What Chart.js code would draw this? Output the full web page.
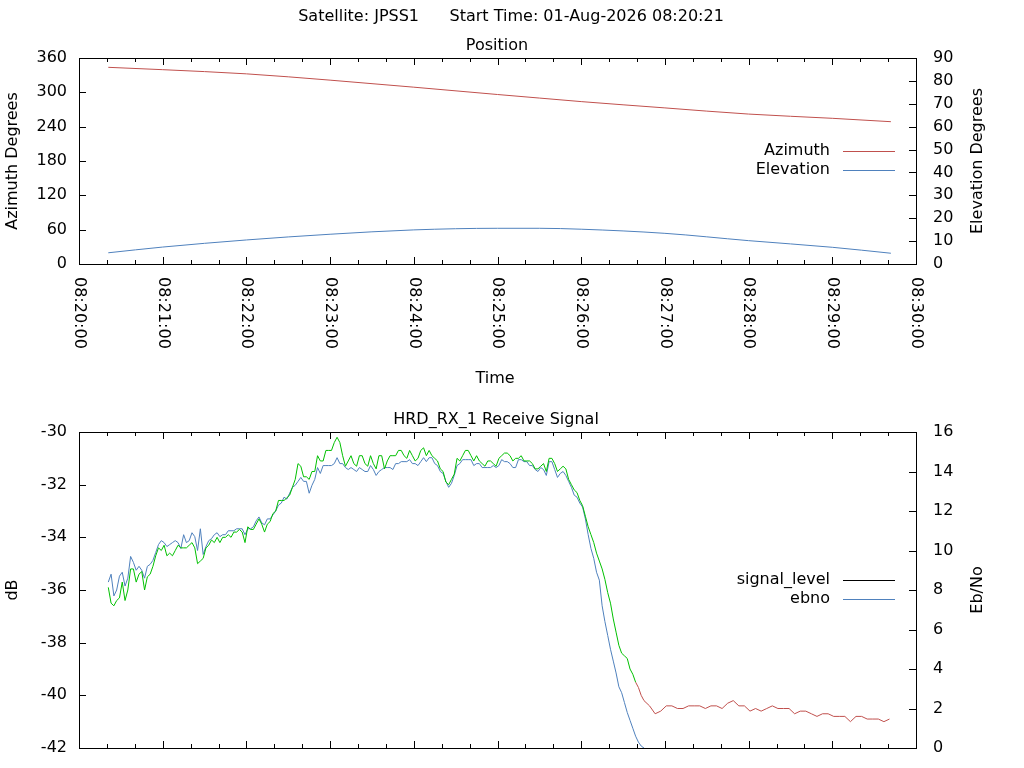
<!DOCTYPE html>
<html>
<head>
<meta charset="utf-8">
<script src="https://cdn.jsdelivr.net/npm/chart.js@4.4.1/dist/chart.umd.min.js"></script>
<style>
  html, body { margin: 0; padding: 0; background: #fff; overflow: hidden; }
  #posChart { position: absolute; left: 0; top: 0; }
  #sigChart { position: absolute; left: 0; top: 392px; }
</style>
</head>
<body>
<canvas id="posChart" width="1024" height="392"></canvas>
<canvas id="sigChart" width="1024" height="383"></canvas>
<script>
// x values are seconds after 08:20:00
const timeLabels = ['08:20:00', '08:21:00', '08:22:00', '08:23:00', '08:24:00', '08:25:00',
                    '08:26:00', '08:27:00', '08:28:00', '08:29:00', '08:30:00'];

// position panel
const posTimes  = [21, 60, 120, 180, 240, 300, 330, 360, 420, 480, 540, 582];
const azimuth   = [343.7, 339.6, 332.3, 321.3, 309.0, 296.2, 290.0, 283.8, 272.8, 262.0, 254.6, 248.7];
const elevation = [4.9, 7.4, 10.5, 13.0, 14.9, 15.6, 15.6, 15.2, 13.4, 10.2, 7.3, 4.7];

// receive signal panel
const sigTimes = [21, 23, 25, 27, 29, 31, 33, 35, 37, 39, 41, 43, 45, 47, 49, 51, 53, 55, 57, 59,
  61, 63, 65, 67, 69, 71, 73, 75, 77, 79, 81, 83, 85, 87, 89, 91, 93, 95, 97, 99,
  101, 103, 105, 107, 109, 111, 113, 115, 117, 119, 121, 123, 125, 127, 129, 131, 133, 135, 137, 139,
  141, 143, 145, 147, 149, 151, 153, 155, 157, 159, 161, 163, 165, 167, 169, 171, 173, 175, 177, 179,
  181, 183, 185, 187, 189, 191, 193, 195, 197, 199, 201, 203, 205, 207, 209, 211, 213, 215, 217, 219,
  221, 223, 225, 227, 229, 231, 233, 235, 237, 239, 241, 243, 245, 247, 249, 251, 253, 255, 257, 259,
  261, 263, 265, 267, 269, 271, 273, 275, 277, 279, 281, 283, 285, 287, 289, 291, 293, 295, 297, 299,
  301, 303, 305, 307, 309, 311, 313, 315, 317, 319, 321, 323, 325, 327, 329, 331, 333, 335, 337, 339,
  341, 343, 345, 347, 349, 351, 353, 355, 357, 359, 361, 363, 365, 367, 369, 371, 373, 375, 377, 379,
  381, 383, 385, 387, 389, 391, 393, 395, 397, 399, 401, 403, 405,
  409, 413, 417, 421, 425, 429, 433, 437, 441, 445, 449, 453, 457, 461, 465, 469, 473, 477, 481, 485,
  489, 493, 497, 501, 505, 509, 513, 517, 521, 525, 529, 533, 537, 541, 545, 549, 553, 557, 561, 565,
  569, 573, 577, 581];
const signalLevel = [
  -35.9, -36.5, -36.6, -36.4, -36.3, -35.7, -36.4, -36.0, -35.2, -35.2, -35.7, -35.4, -35.3, -36.0, -35.5, -35.4, -35.1, -34.7, -34.4, -34.5,
  -34.3, -34.7, -34.6, -34.7, -34.5, -34.3, -34.4, -34.4, -34.4, -34.3, -34.2, -34.4, -35.0, -34.9, -34.8, -34.4, -34.3, -34.1, -34.2, -34.0,
  -34.2, -34.0, -34.0, -33.9, -34.0, -33.8, -33.8, -33.7, -33.8, -34.2, -33.6, -33.7, -33.7, -33.5, -33.3, -33.5, -33.8, -33.5, -33.4, -33.1,
  -33.0, -32.6, -32.6, -32.6, -32.5, -32.4, -32.1, -31.8, -31.2, -31.3, -31.7, -31.7, -31.8, -31.5, -31.5, -30.9, -31.1, -31.1, -30.7, -30.7,
  -30.7, -30.4, -30.2, -30.4, -30.9, -31.3, -31.1, -30.9, -31.2, -31.3, -30.9, -30.9, -31.2, -31.3, -30.9, -31.2, -31.4, -30.9, -30.9, -31.4,
  -31.1, -30.9, -30.9, -30.9, -30.7, -30.7, -30.9, -31.0, -30.7, -30.9, -31.1, -31.0, -30.7, -30.6, -30.9, -30.7, -30.9, -31.0, -31.1, -31.4,
  -31.5, -31.9, -32.0, -31.8, -31.6, -31.0, -31.1, -30.9, -30.7, -30.7, -30.9, -31.1, -30.9, -31.1, -31.2, -31.3, -31.1, -31.1, -31.2, -31.3,
  -31.0, -30.9, -30.8, -30.8, -30.9, -31.1, -31.0, -31.0, -30.9, -31.1, -31.1, -31.1, -31.2, -31.4, -31.4, -31.3, -31.2, -31.5, -31.0, -31.0,
  -31.2, -31.5, -31.4, -31.3, -31.4, -31.8, -32.0, -32.2, -32.3, -32.6, -32.8, -33.2, -33.6, -33.9, -34.2, -34.6, -34.9, -35.2, -35.6, -36.1,
  -36.5, -37.1, -37.6, -38.1, -38.4, -38.5, -38.6, -39.0, -39.2, -39.5, -39.7, -40.0, -40.2,
  -40.4, -40.7, -40.6, -40.4, -40.4, -40.5, -40.5, -40.4, -40.4, -40.4, -40.5, -40.4, -40.4, -40.5, -40.3, -40.2, -40.4, -40.4, -40.6, -40.5,
  -40.6, -40.5, -40.4, -40.5, -40.5, -40.5, -40.7, -40.6, -40.6, -40.7, -40.8, -40.7, -40.7, -40.8, -40.8, -40.8, -41.0, -40.8, -40.8, -40.9,
  -40.9, -40.9, -41.0, -40.9];
// ebno samples share the first sigTimes entries
const ebno = [
  8.4, 8.8, 7.7, 8.0, 8.7, 8.9, 8.2, 8.6, 9.7, 9.4, 9.0, 9.2, 9.0, 8.6, 9.2, 9.3, 9.5, 9.9, 10.3, 10.5,
  10.4, 10.2, 10.3, 10.4, 10.5, 10.4, 10.1, 10.8, 10.4, 10.5, 10.9, 10.7, 10.0, 11.1, 9.8, 10.2, 10.5, 10.6, 10.8, 10.9,
  10.7, 10.8, 10.8, 11.0, 11.0, 11.0, 11.1, 11.1, 11.1, 10.8, 11.1, 11.1, 11.2, 11.5, 11.7, 11.4, 11.3, 11.6, 11.6, 11.8,
  12.0, 12.3, 12.4, 12.7, 12.6, 12.9, 13.2, 13.3, 13.5, 13.7, 13.5, 13.5, 12.9, 13.3, 13.6, 14.2, 13.9, 14.3, 14.3, 14.3,
  14.3, 14.4, 14.7, 14.4, 14.4, 14.2, 14.1, 14.2, 14.1, 14.0, 14.2, 14.1, 14.0, 14.0, 14.3, 14.1, 13.8, 14.0, 14.1, 14.2,
  14.2, 14.2, 14.1, 14.4, 14.4, 14.5, 14.5, 14.5, 14.6, 14.4, 14.4, 14.3, 14.5, 14.7, 14.5, 14.7, 14.7, 14.4, 14.3, 14.0,
  13.9, 13.5, 13.2, 13.4, 13.8, 14.3, 14.4, 14.6, 14.6, 14.6, 14.6, 14.3, 14.4, 14.4, 14.2, 14.2, 14.2, 14.2, 14.3, 14.2,
  14.3, 14.6, 14.5, 14.5, 14.4, 14.2, 14.2, 14.6, 14.6, 14.5, 14.5, 14.3, 14.3, 14.1, 14.0, 14.2, 14.1, 13.8, 14.5, 14.5,
  14.1, 13.7, 13.9, 14.0, 13.8, 13.5, 13.2, 12.8, 12.7, 12.4, 12.2, 11.6, 10.8, 10.1, 9.6, 8.9, 8.5, 7.2, 6.4, 5.7,
  5.0, 4.4, 3.8, 3.1, 2.8, 2.3, 1.8, 1.4, 1.0, 0.6, 0.3, 0.1, 0.0,
  -0.6];
const lockLostAt = 399; // receiver lost lock here, signal_level drawn red after

const RED = '#c0504d', BLUE = '#4f81bd', GREEN = '#00c000';
const FONT = '16px "DejaVu Sans"';

const xy = (xs, ys) => ys.map((v, i) => ({ x: xs[i], y: v }));

// gnuplot style frame: box, inward ticks, rotated time labels, titles and key
const gnuplotFrame = {
  id: 'gnuplotFrame',
  afterDraw(chart, args, opts) {
    const { ctx, chartArea: a, scales } = chart;
    ctx.save();
    ctx.strokeStyle = '#000';
    ctx.lineWidth = 1;
    ctx.strokeRect(a.left + 0.5, a.top + 0.5, a.right - a.left, a.bottom - a.top);

    ctx.beginPath();
    scales.x.ticks.forEach(t => {
      const px = Math.round(scales.x.getPixelForValue(t.value)) + 0.5;
      const len = t.value % 60 === 0 ? 7 : 4;
      ctx.moveTo(px, a.bottom); ctx.lineTo(px, a.bottom - len);
      ctx.moveTo(px, a.top); ctx.lineTo(px, a.top + len);
    });
    scales.y.ticks.forEach(t => {
      const py = Math.round(scales.y.getPixelForValue(t.value)) + 0.5;
      ctx.moveTo(a.left, py); ctx.lineTo(a.left + 7, py);
    });
    scales.y2.ticks.forEach(t => {
      const py = Math.round(scales.y2.getPixelForValue(t.value)) + 0.5;
      ctx.moveTo(a.right, py); ctx.lineTo(a.right - 7, py);
    });
    ctx.stroke();

    ctx.fillStyle = '#000';
    ctx.font = FONT;

    if (opts.timeLabels) {
      ctx.textAlign = 'left';
      ctx.textBaseline = 'middle';
      scales.x.ticks.forEach(t => {
        if (!t.label) return;
        ctx.save();
        ctx.translate(scales.x.getPixelForValue(t.value), a.bottom + 13);
        ctx.rotate(Math.PI / 2);
        ctx.fillText(t.label, 0, 0);
        ctx.restore();
      });
    }

    ctx.textAlign = 'center';
    ctx.textBaseline = 'middle';
    (opts.titles || []).forEach(t => ctx.fillText(t.text, t.x, t.y));
    (opts.sideTitles || []).forEach(t => {
      ctx.save();
      ctx.translate(t.x, (a.top + a.bottom) / 2);
      ctx.rotate(-Math.PI / 2);
      ctx.fillText(t.text, 0, 0);
      ctx.restore();
    });

    // key
    chart.data.datasets.forEach((ds, i) => {
      const y = opts.keyTop + i * 19;
      ctx.textAlign = 'right';
      ctx.fillText(ds.label, 830, y);
      ctx.strokeStyle = ds.borderColor;
      ctx.beginPath();
      ctx.moveTo(843, Math.round(y) + 0.5);
      ctx.lineTo(895, Math.round(y) + 0.5);
      ctx.stroke();
    });
    ctx.restore();
  }
};

const yScale = (min, max, step, position, width, pad) => ({
  type: 'linear', position, min, max,
  ticks: { stepSize: step, padding: pad, color: '#000', font: { family: 'DejaVu Sans', size: 16 } },
  grid: { display: false, drawTicks: false },
  border: { display: false },
  afterFit: s => { s.width = width; }
});

const xScale = (height) => ({
  type: 'linear', min: 0, max: 600,
  ticks: { stepSize: 20, display: false, callback: v => (v % 60 === 0 ? timeLabels[v / 60] : '') },
  grid: { display: false, drawTicks: false },
  border: { display: false },
  afterFit: s => { s.height = height; }
});

const lineStyle = { borderWidth: 1, pointRadius: 0, fill: false };

new Chart(document.getElementById('posChart'), {
  type: 'line',
  data: {
    datasets: [
      { label: 'Azimuth', data: xy(posTimes, azimuth), borderColor: RED, yAxisID: 'y',
        cubicInterpolationMode: 'monotone', ...lineStyle },
      { label: 'Elevation', data: xy(posTimes, elevation), borderColor: BLUE, yAxisID: 'y2',
        cubicInterpolationMode: 'monotone', ...lineStyle }
    ]
  },
  options: {
    responsive: false,
    animation: false,
    devicePixelRatio: 1,
    layout: { padding: { top: 58, left: 0, right: 0, bottom: 0 } },
    plugins: {
      legend: { display: false },
      tooltip: { enabled: false },
      gnuplotFrame: {
        timeLabels: true,
        keyTop: 151,
        titles: [
          { text: 'Satellite: JPSS1      Start Time: 01-Aug-2026 08:20:21', x: 511, y: 17 },
          { text: 'Position', x: 497, y: 46 },
          { text: 'Time', x: 495, y: 379 }
        ],
        sideTitles: [
          { text: 'Azimuth Degrees', x: 13 },
          { text: 'Elevation Degrees', x: 978 }
        ]
      }
    },
    scales: {
      x: xScale(128),
      y: yScale(0, 360, 60, 'left', 79, 12),
      y2: yScale(0, 90, 10, 'right', 108, 17)
    }
  },
  plugins: [gnuplotFrame]
});

new Chart(document.getElementById('sigChart'), {
  type: 'line',
  data: {
    datasets: [
      { label: 'signal_level', data: xy(sigTimes, signalLevel), borderColor: '#000', yAxisID: 'y',
        segment: { borderColor: c => (c.p0.parsed.x < lockLostAt ? GREEN : RED) }, ...lineStyle },
      { label: 'ebno', data: xy(sigTimes, ebno), borderColor: BLUE, yAxisID: 'y2', ...lineStyle }
    ]
  },
  options: {
    responsive: false,
    animation: false,
    devicePixelRatio: 1,
    layout: { padding: { top: 40, left: 0, right: 0, bottom: 0 } },
    plugins: {
      legend: { display: false },
      tooltip: { enabled: false },
      gnuplotFrame: {
        timeLabels: false,
        keyTop: 188,
        titles: [
          { text: 'HRD_RX_1 Receive Signal', x: 496, y: 28 }
        ],
        sideTitles: [
          { text: 'dB', x: 13 },
          { text: 'Eb/No', x: 978 }
        ]
      }
    },
    scales: {
      x: xScale(27),
      y: yScale(-42, -30, 2, 'left', 79, 12),
      y2: yScale(0, 16, 2, 'right', 108, 17)
    }
  },
  plugins: [gnuplotFrame]
});
</script>
</body>
</html>
